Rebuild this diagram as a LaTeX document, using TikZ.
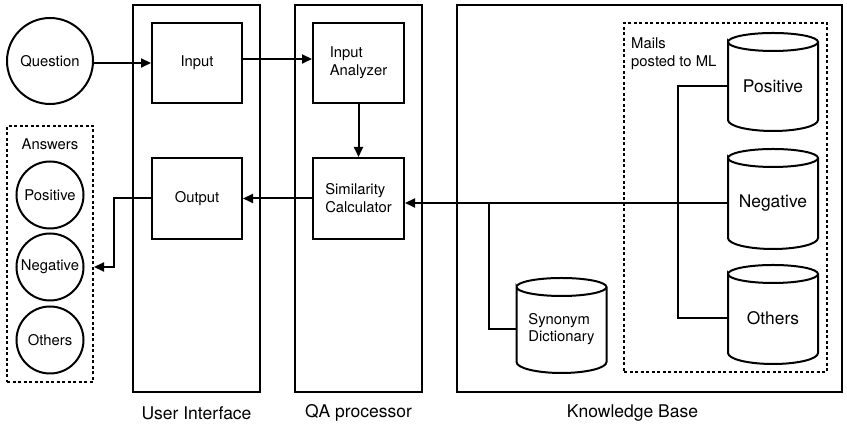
\documentclass[tikz,border=0pt]{standalone}
\usepackage{fontspec}
\setmainfont{TeX Gyre Heros}
\usepackage{tikz}
\usetikzlibrary{arrows.meta}
\tikzset{panel/.style={draw,line width=2pt,inner sep=0pt}}
\tikzset{procbox/.style={draw,line width=2pt,minimum width=90pt,minimum height=80pt,inner sep=0pt,align=left,font=\fontsize{14.8}{18}\selectfont}}
\tikzset{ansnode/.style={draw,circle,line width=2pt,inner sep=0pt,minimum size=67pt,font=\fontsize{14.8}{18}\selectfont}}
\tikzset{groupbox/.style={draw,line width=2pt,dash pattern=on 3pt off 2.5pt,inner sep=0pt}}
\tikzset{cyltext/.style={inner sep=0pt,minimum width=90pt,align=left,font=\fontsize{17.4}{20}\selectfont}}
\tikzset{plaintext/.style={inner sep=0pt,align=left,font=\fontsize{14.8}{18}\selectfont}}
\tikzset{caption/.style={inner sep=0pt,font=\fontsize{17.5}{20}\selectfont}}
\tikzset{conn/.style={line width=2pt}}
\tikzset{arr/.style={line width=2pt,-{Triangle[length=10pt,width=9pt]}}}
% cylinder: [node opts]{name}{x}{top y}{bottom y}{text}
\newcommand{\dbcylinder}[6][]{%
  \draw[line width=2pt] ({#3-45},#4) arc[start angle=180,end angle=-180,x radius=45pt,y radius=9pt]
    -- ({#3-45},#5) arc[start angle=180,end angle=360,x radius=45pt,y radius=11pt]
    -- ({#3+45},#4);
  \node[cyltext,#1] (#2) at (#3,{(#4+#5)/2-5}) {#6};
}

\begin{document}
\begin{tikzpicture}[x=1pt,y=1pt]
		\useasboundingbox (0,0) rectangle (847,427);
		%
		\node[panel,minimum width=127pt,minimum height=387pt] (ui) at (196.5,228.5) {};
		\node[panel,minimum width=127pt,minimum height=387pt] (qa) at (358.5,228.5) {};
		\node[panel,minimum width=385pt,minimum height=387pt] (kb) at (649.5,228.5) {};
		\node[caption] (uilbl) at (196.5,14) {User Interface};
		\node[caption] (qalbl) at (358.5,14) {QA processor};
		\node[caption] (kblbl) at (632.5,14) {Knowledge Base};
		%
		\node[ansnode,minimum size=86pt] (question) at (50,366) {Question};
		\node[groupbox,minimum width=86pt,minimum height=256pt] (answers) at (50,173) {};
		\node[plaintext] (anslbl) at (50,283) {Answers};
		\node[ansnode] (anspos) at (50,232) {Positive};
		\node[ansnode] (ansneg) at (50,160) {Negative};
		\node[ansnode] (ansoth) at (50,87) {Others};
		%
		\node[procbox] (inp) at (197,364) {Input};
		\node[procbox,minimum height=81pt] (out) at (197,228.5) {Output};
		\node[procbox,minimum width=91pt] (ana) at (358.5,364) {Input\\Analyzer};
		\node[procbox,minimum width=91pt,minimum height=81pt] (sim) at (358.5,228.5) {Similarity\\Calculator};
		%
		\node[groupbox,minimum width=203pt,minimum height=349pt] (mails) at (725.5,229.5) {};
		\node[plaintext,anchor=west] (mailslbl) at (631,373) {Mails\\posted to ML};
		\dbcylinder{pos}{773}{385}{307}{Positive}
		\dbcylinder{neg}{773}{269}{189}{Negative}
		\dbcylinder{oth}{773}{153}{74}{Others}
		\dbcylinder[font=\fontsize{14.8}{17}\selectfont]{syn}{561.5}{140}{65}{Synonym\\Dictionary}
		\coordinate (tap) at (489,0);
		\coordinate (mailbus) at (678,0);
		%
		\draw[arr] (question.east |- inp.west) -- (inp.west);
		\draw[arr] ([yshift=4pt]inp.east) -- ([yshift=4pt]ana.west);
		\draw[arr] (ana) -- (sim);
		\draw[arr] (sim.west) -- (out.east);
		\draw[arr] (out.west) -- ++(-37pt,0) |- (answers.east |- ansneg.center);
		\draw[arr] (neg.west) -- (neg.west -| sim.east);
		\draw[conn] (syn.west) -| (tap |- neg.west);
		\draw[conn] (pos.west) -| (mailbus |- oth.west) -- (oth.west);
	\end{tikzpicture}
\end{document}
